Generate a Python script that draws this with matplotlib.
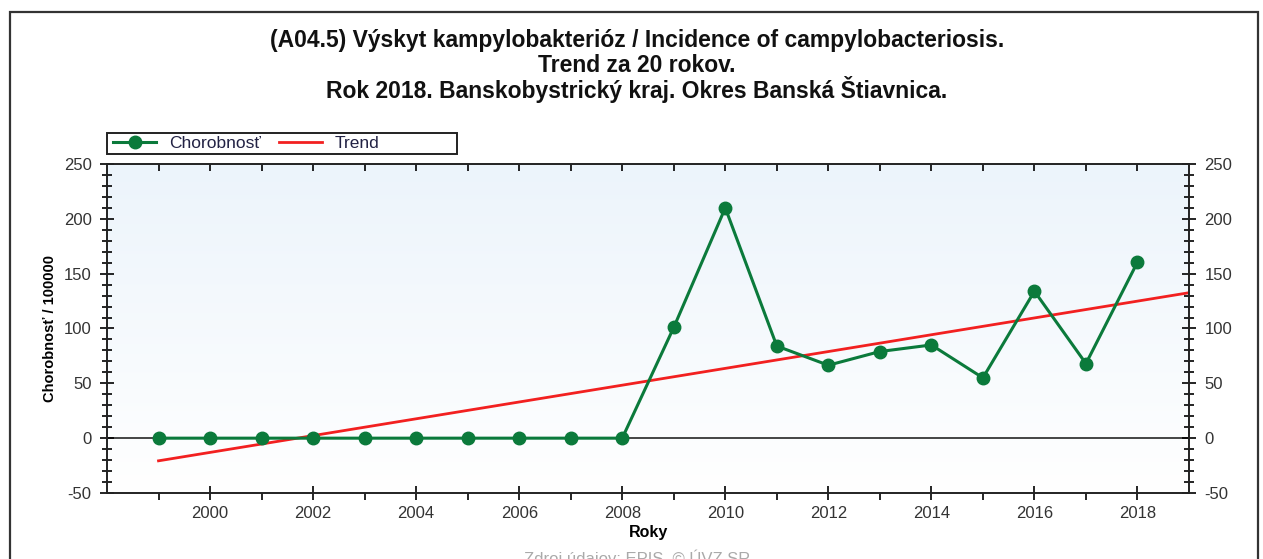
import numpy as np
import matplotlib
matplotlib.use("Agg")
import matplotlib.pyplot as plt
from matplotlib.ticker import MultipleLocator, FixedLocator
from matplotlib.patches import Rectangle

plt.rcParams['font.family'] = ['Liberation Sans', 'DejaVu Sans']
plt.rcParams['axes.unicode_minus'] = False

years = list(range(1999, 2019))
incidence = [0, 0, 0, 0, 0, 0, 0, 0, 0, 0,
             101, 210, 84, 66.5, 79, 85, 55, 134, 68, 160.5]
year_labels = list(range(2000, 2019, 2))

title_lines = [
    "(A04.5) Výskyt kampylobakterióz / Incidence of campylobacteriosis.",
    "Trend za 20 rokov.",
    "Rok 2018. Banskobystrický kraj. Okres Banská Štiavnica.",
]
y_label = "Chorobnosť / 100000"
x_label = "Roky"
source = "Zdroj údajov: EPIS, © ÚVZ SR"

green = "#0b7a3b"
red = "#f22020"

fig = plt.figure(figsize=(12.63, 5.59), dpi=100)
fig.patches.append(Rectangle((10 / 1263, -0.1), 1248 / 1263, 1.1 - 12 / 559,
                             transform=fig.transFigure, fill=False,
                             edgecolor="#333333", linewidth=1.6))

ax = fig.add_axes([107 / 1263, 1 - 493 / 559, 1082 / 1263, 329 / 559])
x0, x1, y0, y1 = 1998, 2019, -50, 250

# soft blue gradient behind the plot area, bluer towards the top
grad = np.linspace(0, 1, 256).reshape(-1, 1)
cmap = matplotlib.colors.LinearSegmentedColormap.from_list("bg", ["#ffffff", "#ecf4fb"])
ax.imshow(grad, extent=[x0, x1, y0, y1], aspect="auto", cmap=cmap,
          origin="lower", zorder=0)

ax.axhline(0, color="#444444", linewidth=1.4, zorder=1)

# linear trend over the whole period, extended to the axis edge
k, q = np.polyfit(years, incidence, 1)
tx = np.array([years[0], x1])
ax.plot(tx, k * tx + q, color=red, linewidth=2, zorder=2, label="Trend")

ax.plot(years, incidence, color=green, linewidth=2.2, marker="o",
        markersize=9, zorder=3, label="Chorobnosť")

ax.set_xlim(x0, x1)
ax.set_ylim(y0, y1)

ax.yaxis.set_major_locator(MultipleLocator(50))
ax.yaxis.set_minor_locator(MultipleLocator(10))
ax.xaxis.set_major_locator(FixedLocator(year_labels))
ax.xaxis.set_minor_locator(FixedLocator(years[::2]))

ax.tick_params(axis="y", which="major", direction="inout", length=10, width=1.2,
               left=True, right=True, labelleft=True, labelright=True,
               labelsize=12, labelcolor="#333333", pad=6)
ax.tick_params(axis="y", which="minor", direction="inout", length=7, width=1.2,
               left=True, right=True)
ax.tick_params(axis="x", which="major", direction="inout", length=10, width=1.2,
               top=True, bottom=True, labelsize=12, labelcolor="#333333", pad=4)
ax.tick_params(axis="x", which="minor", direction="out", length=5, width=1.2,
               top=True, bottom=True)
# top ticks are short and point into the plot
for t in ax.xaxis.get_ticklines(minor=False)[1::2]:
    t.set_markersize(5)
    t.set_marker(3)
for t in ax.xaxis.get_ticklines(minor=True)[1::2]:
    t.set_markersize(5)
    t.set_marker(3)

for side in ["left", "right", "bottom", "top"]:
    ax.spines[side].set_color("#222222")
    ax.spines[side].set_linewidth(1.4)

ax.set_xlabel(x_label, fontsize=11.5, fontweight="bold", labelpad=3)
ax.set_ylabel(y_label, fontsize=10.5, fontweight="bold", labelpad=5)

# legend box sits above the plot, wider than its entries
ax.add_patch(Rectangle((0, 1 + 10 / 329), 350 / 1082, 21 / 329,
                       transform=ax.transAxes, fill=False, clip_on=False,
                       edgecolor="#222222", linewidth=1.4))
handles, labels = ax.get_legend_handles_labels()
leg = ax.legend(handles[::-1], labels[::-1], loc="center left",
                bbox_to_anchor=(6 / 1082, 1 + 20.5 / 329), ncol=2, fontsize=12.5,
                frameon=False, borderpad=0, handlelength=2.5,
                columnspacing=1.0, handletextpad=0.75, borderaxespad=0)
for text in leg.get_texts():
    text.set_color("#222244")

for i, line in enumerate(title_lines):
    fig.text(637 / 1263, 1 - (40 + 25 * i) / 559, line, ha="center",
             va="center", fontsize=16.5, fontweight="bold", color="#111111")

fig.text(637 / 1263, 1 - 558 / 559, source, ha="center", va="center",
         fontsize=12, color="#aaaaaa")

fig.savefig("out.png", dpi=100)
